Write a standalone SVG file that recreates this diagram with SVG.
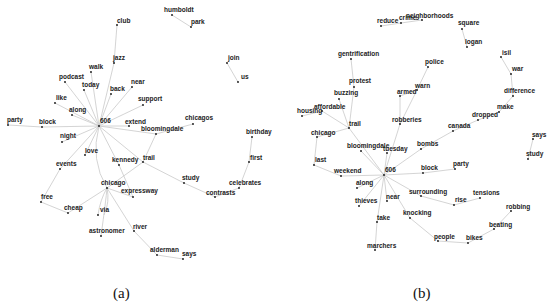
<svg xmlns="http://www.w3.org/2000/svg" width="550" height="304" viewBox="0 0 550 304">
<style>
.e{stroke:#c9c9c9;stroke-width:0.8;fill:none}
.d{fill:#111}
.t{font-family:"Liberation Sans",Arial,sans-serif;font-weight:bold;font-size:6.5px;fill:#222}
.cap{font-family:"Liberation Serif","Times New Roman",serif;font-size:15px;fill:#111}
</style>
<rect width="550" height="304" fill="#fff"/>
<g id="connectors">
<!-- panel a -->
<line class="e" x1="99" y1="126" x2="114" y2="63"/>
<line class="e" x1="114" y1="63" x2="117" y2="25"/>
<line class="e" x1="99" y1="126" x2="91" y2="72"/>
<line class="e" x1="99" y1="126" x2="65" y2="82"/>
<line class="e" x1="99" y1="126" x2="84" y2="90"/>
<line class="e" x1="99" y1="126" x2="111" y2="94"/>
<line class="e" x1="99" y1="126" x2="132" y2="87"/>
<line class="e" x1="99" y1="126" x2="55" y2="103"/>
<line class="e" x1="99" y1="126" x2="72" y2="115"/>
<line class="e" x1="99" y1="126" x2="42" y2="127"/>
<line class="e" x1="42" y1="127" x2="8" y2="125"/>
<line class="e" x1="99" y1="126" x2="143" y2="105"/>
<line class="e" x1="99" y1="126" x2="129" y2="126"/>
<line class="e" x1="99" y1="126" x2="156" y2="134"/>
<line class="e" x1="99" y1="126" x2="62" y2="142"/>
<line class="e" x1="99" y1="126" x2="60" y2="169"/>
<line class="e" x1="99" y1="126" x2="85" y2="155"/>
<line class="e" x1="99" y1="126" x2="119" y2="165"/>
<line class="e" x1="99" y1="126" x2="143" y2="162"/>
<path class="e" d="M99,126 Q90,160 107,188"/>
<line class="e" x1="156" y1="134" x2="193" y2="124"/>
<line class="e" x1="156" y1="134" x2="143" y2="162"/>
<line class="e" x1="143" y1="162" x2="107" y2="188"/>
<line class="e" x1="143" y1="162" x2="184" y2="183"/>
<line class="e" x1="184" y1="183" x2="215" y2="197"/>
<line class="e" x1="215" y1="197" x2="239" y2="188"/>
<line class="e" x1="239" y1="188" x2="249" y2="162"/>
<line class="e" x1="249" y1="162" x2="252" y2="137"/>
<line class="e" x1="119" y1="165" x2="133" y2="197"/>
<line class="e" x1="107" y1="188" x2="133" y2="197"/>
<line class="e" x1="60" y1="169" x2="41" y2="202"/>
<line class="e" x1="41" y1="202" x2="68" y2="213"/>
<line class="e" x1="68" y1="213" x2="107" y2="188"/>
<path class="e" d="M107,188 Q100,200 98,215"/>
<path class="e" d="M107,188 Q106,200 101,236"/>
<path class="e" d="M107,188 Q110,202 104,215"/>
<line class="e" x1="107" y1="188" x2="134" y2="231"/>
<line class="e" x1="134" y1="231" x2="157" y2="255"/>
<line class="e" x1="157" y1="255" x2="183" y2="259"/>
<line class="e" x1="172" y1="15" x2="191" y2="27"/>
<line class="e" x1="227" y1="63" x2="238" y2="82"/>
<!-- panel b -->
<line class="e" x1="381" y1="26" x2="401" y2="23"/>
<line class="e" x1="401" y1="23" x2="422" y2="20"/>
<line class="e" x1="462" y1="29" x2="467" y2="47"/>
<line class="e" x1="501" y1="57" x2="511" y2="74"/>
<line class="e" x1="511" y1="74" x2="513" y2="96"/>
<line class="e" x1="513" y1="96" x2="499" y2="112"/>
<line class="e" x1="499" y1="112" x2="478" y2="120"/>
<line class="e" x1="478" y1="120" x2="453" y2="131"/>
<line class="e" x1="453" y1="131" x2="421" y2="149"/>
<line class="e" x1="421" y1="149" x2="384" y2="175"/>
<line class="e" x1="428" y1="67" x2="417" y2="90"/>
<line class="e" x1="417" y1="90" x2="400" y2="124"/>
<line class="e" x1="400" y1="96" x2="417" y2="90"/>
<line class="e" x1="400" y1="96" x2="400" y2="124"/>
<line class="e" x1="400" y1="124" x2="384" y2="175"/>
<line class="e" x1="351" y1="59" x2="354" y2="87"/>
<line class="e" x1="354" y1="87" x2="349" y2="128"/>
<line class="e" x1="339" y1="99" x2="349" y2="128"/>
<line class="e" x1="302" y1="116" x2="322" y2="111"/>
<line class="e" x1="322" y1="111" x2="349" y2="128"/>
<line class="e" x1="317" y1="137" x2="349" y2="128"/>
<line class="e" x1="349" y1="128" x2="384" y2="175"/>
<line class="e" x1="317" y1="137" x2="314" y2="165"/>
<line class="e" x1="314" y1="165" x2="341" y2="176"/>
<line class="e" x1="341" y1="176" x2="384" y2="175"/>
<line class="e" x1="361" y1="151" x2="384" y2="175"/>
<line class="e" x1="387" y1="153" x2="384" y2="175"/>
<line class="e" x1="384" y1="175" x2="423" y2="173"/>
<line class="e" x1="423" y1="173" x2="455" y2="169"/>
<line class="e" x1="384" y1="175" x2="357" y2="188"/>
<line class="e" x1="384" y1="175" x2="359" y2="206"/>
<line class="e" x1="384" y1="175" x2="387" y2="201"/>
<line class="e" x1="384" y1="175" x2="377" y2="222"/>
<line class="e" x1="377" y1="222" x2="375" y2="250"/>
<line class="e" x1="384" y1="175" x2="410" y2="218"/>
<line class="e" x1="410" y1="218" x2="438" y2="241"/>
<line class="e" x1="438" y1="241" x2="468" y2="243"/>
<line class="e" x1="468" y1="243" x2="494" y2="229"/>
<line class="e" x1="494" y1="229" x2="511" y2="211"/>
<line class="e" x1="384" y1="175" x2="421" y2="196"/>
<line class="e" x1="421" y1="196" x2="454" y2="205"/>
<line class="e" x1="454" y1="205" x2="480" y2="198"/>
<line class="e" x1="533" y1="139" x2="528" y2="159"/>
</g>
<g id="a-club"><circle class="d" cx="117" cy="25" r="0.9"/><text class="t" x="117" y="22.5">club</text></g>
<g id="a-jazz"><circle class="d" cx="114" cy="63" r="0.9"/><text class="t" x="113" y="59.5">jazz</text></g>
<g id="a-walk"><circle class="d" cx="91" cy="72" r="0.9"/><text class="t" x="89" y="68.5">walk</text></g>
<g id="a-podcast"><circle class="d" cx="65" cy="82" r="0.9"/><text class="t" x="59" y="78.5">podcast</text></g>
<g id="a-today"><circle class="d" cx="84" cy="90" r="0.9"/><text class="t" x="82" y="86.5">today</text></g>
<g id="a-back"><circle class="d" cx="111" cy="94" r="0.9"/><text class="t" x="110" y="90.5">back</text></g>
<g id="a-near"><circle class="d" cx="132" cy="87" r="0.9"/><text class="t" x="131" y="83.5">near</text></g>
<g id="a-like"><circle class="d" cx="55" cy="103" r="0.9"/><text class="t" x="56" y="99.5">like</text></g>
<g id="a-along"><circle class="d" cx="72" cy="115" r="0.9"/><text class="t" x="69" y="111.5">along</text></g>
<g id="a-606"><circle class="d" cx="99" cy="126" r="0.9"/><text class="t" x="100" y="122.5">606</text></g>
<g id="a-party"><circle class="d" cx="8" cy="125" r="0.9"/><text class="t" x="7" y="121.5">party</text></g>
<g id="a-block"><circle class="d" cx="42" cy="127" r="0.9"/><text class="t" x="39" y="123.5">block</text></g>
<g id="a-extend"><circle class="d" cx="129" cy="126" r="0.9"/><text class="t" x="125" y="123.5">extend</text></g>
<g id="a-night"><circle class="d" cx="62" cy="142" r="0.9"/><text class="t" x="60" y="137.5">night</text></g>
<g id="a-support"><circle class="d" cx="143" cy="105" r="0.9"/><text class="t" x="138" y="100.5">support</text></g>
<g id="a-chicagos"><circle class="d" cx="193" cy="124" r="0.9"/><text class="t" x="185" y="119.5">chicagos</text></g>
<g id="a-bloomingdale"><circle class="d" cx="156" cy="134" r="0.9"/><text class="t" x="141" y="130.5">bloomingdale</text></g>
<g id="a-humboldt"><circle class="d" cx="172" cy="15" r="0.9"/><text class="t" x="164" y="11.5">humboldt</text></g>
<g id="a-park"><circle class="d" cx="191" cy="27" r="0.9"/><text class="t" x="191" y="23.5">park</text></g>
<g id="a-join"><circle class="d" cx="227" cy="63" r="0.9"/><text class="t" x="228" y="59.5">join</text></g>
<g id="a-us"><circle class="d" cx="238" cy="82" r="0.9"/><text class="t" x="241" y="78.5">us</text></g>
<g id="a-birthday"><circle class="d" cx="252" cy="137" r="0.9"/><text class="t" x="246" y="133.5">birthday</text></g>
<g id="a-love"><circle class="d" cx="85" cy="155" r="0.9"/><text class="t" x="85" y="152.5">love</text></g>
<g id="a-events"><circle class="d" cx="60" cy="169" r="0.9"/><text class="t" x="56" y="165.5">events</text></g>
<g id="a-kennedy"><circle class="d" cx="119" cy="165" r="0.9"/><text class="t" x="112" y="161.5">kennedy</text></g>
<g id="a-chicago"><circle class="d" cx="107" cy="188" r="0.9"/><text class="t" x="101" y="184.5">chicago</text></g>
<g id="a-expressway"><circle class="d" cx="133" cy="197" r="0.9"/><text class="t" x="121" y="192.5">expressway</text></g>
<g id="a-free"><circle class="d" cx="41" cy="202" r="0.9"/><text class="t" x="41" y="198.5">free</text></g>
<g id="a-cheap"><circle class="d" cx="68" cy="213" r="0.9"/><text class="t" x="64" y="209.5">cheap</text></g>
<g id="a-via"><circle class="d" cx="98" cy="215" r="0.9"/><text class="t" x="100" y="211.5">via</text></g>
<g id="a-astronomer"><circle class="d" cx="101" cy="236" r="0.9"/><text class="t" x="89" y="232.5">astronomer</text></g>
<g id="a-river"><circle class="d" cx="134" cy="231" r="0.9"/><text class="t" x="133" y="228.5">river</text></g>
<g id="a-trail"><circle class="d" cx="143" cy="162" r="0.9"/><text class="t" x="143" y="159.5">trail</text></g>
<g id="a-study"><circle class="d" cx="184" cy="183" r="0.9"/><text class="t" x="182" y="179.5">study</text></g>
<g id="a-contrasts"><circle class="d" cx="215" cy="197" r="0.9"/><text class="t" x="206" y="194.5">contrasts</text></g>
<g id="a-celebrates"><circle class="d" cx="239" cy="188" r="0.9"/><text class="t" x="229" y="184.5">celebrates</text></g>
<g id="a-first"><circle class="d" cx="249" cy="162" r="0.9"/><text class="t" x="250" y="159.5">first</text></g>
<g id="a-alderman"><circle class="d" cx="157" cy="255" r="0.9"/><text class="t" x="150" y="251.5">alderman</text></g>
<g id="a-says"><circle class="d" cx="183" cy="259" r="0.9"/><text class="t" x="182" y="255.5">says</text></g>
<g id="b-reduce"><circle class="d" cx="381" cy="26" r="0.9"/><text class="t" x="377" y="22.5">reduce</text></g>
<g id="b-crime"><circle class="d" cx="401" cy="23" r="0.9"/><text class="t" x="399" y="19.5">crime</text></g>
<g id="b-neighborhoods"><circle class="d" cx="422" cy="20" r="0.9"/><text class="t" x="406" y="17.5">neighborhoods</text></g>
<g id="b-square"><circle class="d" cx="462" cy="29" r="0.9"/><text class="t" x="458" y="24.5">square</text></g>
<g id="b-logan"><circle class="d" cx="467" cy="47" r="0.9"/><text class="t" x="465" y="43.5">logan</text></g>
<g id="b-isil"><circle class="d" cx="501" cy="57" r="0.9"/><text class="t" x="502" y="54.5">isil</text></g>
<g id="b-war"><circle class="d" cx="511" cy="74" r="0.9"/><text class="t" x="512" y="70.5">war</text></g>
<g id="b-difference"><circle class="d" cx="513" cy="96" r="0.9"/><text class="t" x="504" y="92.5">difference</text></g>
<g id="b-make"><circle class="d" cx="499" cy="112" r="0.9"/><text class="t" x="497" y="108.5">make</text></g>
<g id="b-dropped"><circle class="d" cx="478" cy="120" r="0.9"/><text class="t" x="472" y="116.5">dropped</text></g>
<g id="b-canada"><circle class="d" cx="453" cy="131" r="0.9"/><text class="t" x="448" y="127.5">canada</text></g>
<g id="b-police"><circle class="d" cx="428" cy="67" r="0.9"/><text class="t" x="425" y="63.5">police</text></g>
<g id="b-warn"><circle class="d" cx="417" cy="90" r="0.9"/><text class="t" x="415" y="87.5">warn</text></g>
<g id="b-armed"><circle class="d" cx="400" cy="96" r="0.9"/><text class="t" x="397" y="93.5">armed</text></g>
<g id="b-robberies"><circle class="d" cx="400" cy="124" r="0.9"/><text class="t" x="392" y="121.5">robberies</text></g>
<g id="b-gentrification"><circle class="d" cx="351" cy="59" r="0.9"/><text class="t" x="338" y="55.5">gentrification</text></g>
<g id="b-protest"><circle class="d" cx="354" cy="87" r="0.9"/><text class="t" x="349" y="82.5">protest</text></g>
<g id="b-buzzing"><circle class="d" cx="339" cy="99" r="0.9"/><text class="t" x="334" y="94.5">buzzing</text></g>
<g id="b-affordable"><circle class="d" cx="322" cy="111" r="0.9"/><text class="t" x="314" y="108.5">affordable</text></g>
<g id="b-housing"><circle class="d" cx="302" cy="116" r="0.9"/><text class="t" x="297" y="112.5">housing</text></g>
<g id="b-trail"><circle class="d" cx="349" cy="128" r="0.9"/><text class="t" x="349" y="125.5">trail</text></g>
<g id="b-chicago"><circle class="d" cx="317" cy="137" r="0.9"/><text class="t" x="311" y="134.5">chicago</text></g>
<g id="b-bloomingdale"><circle class="d" cx="361" cy="151" r="0.9"/><text class="t" x="347" y="147.5">bloomingdale</text></g>
<g id="b-tuesday"><circle class="d" cx="387" cy="153" r="0.9"/><text class="t" x="383" y="150.5">tuesday</text></g>
<g id="b-last"><circle class="d" cx="314" cy="165" r="0.9"/><text class="t" x="315" y="161.5">last</text></g>
<g id="b-weekend"><circle class="d" cx="341" cy="176" r="0.9"/><text class="t" x="334" y="172.5">weekend</text></g>
<g id="b-606"><circle class="d" cx="384" cy="175" r="0.9"/><text class="t" x="385" y="171.5">606</text></g>
<g id="b-along"><circle class="d" cx="357" cy="188" r="0.9"/><text class="t" x="356" y="184.5">along</text></g>
<g id="b-near"><circle class="d" cx="387" cy="201" r="0.9"/><text class="t" x="386" y="198.5">near</text></g>
<g id="b-thieves"><circle class="d" cx="359" cy="206" r="0.9"/><text class="t" x="355" y="202.5">thieves</text></g>
<g id="b-take"><circle class="d" cx="377" cy="222" r="0.9"/><text class="t" x="377" y="219.5">take</text></g>
<g id="b-marchers"><circle class="d" cx="375" cy="250" r="0.9"/><text class="t" x="367" y="247.5">marchers</text></g>
<g id="b-knocking"><circle class="d" cx="410" cy="218" r="0.9"/><text class="t" x="403" y="214.5">knocking</text></g>
<g id="b-bombs"><circle class="d" cx="421" cy="149" r="0.9"/><text class="t" x="417" y="145.5">bombs</text></g>
<g id="b-block"><circle class="d" cx="423" cy="173" r="0.9"/><text class="t" x="421" y="169.5">block</text></g>
<g id="b-party"><circle class="d" cx="455" cy="169" r="0.9"/><text class="t" x="453" y="165.5">party</text></g>
<g id="b-surrounding"><circle class="d" cx="421" cy="196" r="0.9"/><text class="t" x="409" y="193.5">surrounding</text></g>
<g id="b-rise"><circle class="d" cx="454" cy="205" r="0.9"/><text class="t" x="455" y="201.5">rise</text></g>
<g id="b-tensions"><circle class="d" cx="480" cy="198" r="0.9"/><text class="t" x="473" y="194.5">tensions</text></g>
<g id="b-robbing"><circle class="d" cx="511" cy="211" r="0.9"/><text class="t" x="506" y="208.5">robbing</text></g>
<g id="b-beating"><circle class="d" cx="494" cy="229" r="0.9"/><text class="t" x="489" y="226.5">beating</text></g>
<g id="b-bikes"><circle class="d" cx="468" cy="243" r="0.9"/><text class="t" x="466" y="239.5">bikes</text></g>
<g id="b-people"><circle class="d" cx="438" cy="241" r="0.9"/><text class="t" x="434" y="238.5">people</text></g>
<g id="b-says"><circle class="d" cx="533" cy="139" r="0.9"/><text class="t" x="532" y="136.5">says</text></g>
<g id="b-study"><circle class="d" cx="528" cy="159" r="0.9"/><text class="t" x="526" y="155.5">study</text></g>
<text class="cap" x="113" y="298">(a)</text>
<text class="cap" x="413" y="298">(b)</text>
</svg>
